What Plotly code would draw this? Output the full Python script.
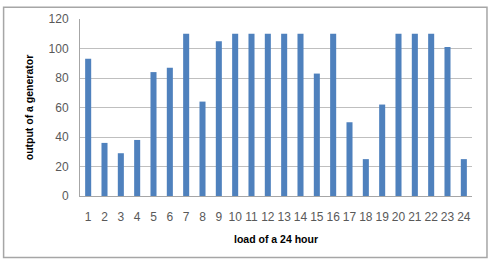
import plotly.graph_objects as go

hours = [str(i) for i in range(1, 25)]
output = [93, 36, 29, 38, 84, 87, 110, 64, 105, 110, 110, 110, 110, 110, 83, 110, 50, 25, 62, 110, 110, 110, 101, 25]
y_ticks = [0, 20, 40, 60, 80, 100, 120]

L, R, T, B = 79.5, 24, 16, 70
W, H = 496, 266
pw, ph = W - L - R, H - T - B

fig = go.Figure(go.Bar(x=hours, y=output, marker=dict(color="#4F81BD", line=dict(width=0))))

fig.update_layout(
    width=W, height=H,
    margin=dict(l=L, r=R, t=T, b=B),
    paper_bgcolor="white", plot_bgcolor="white",
    bargap=0.63,
    showlegend=False,
    font=dict(family="Liberation Sans", color="#595959", size=12),
)
fig.update_xaxes(
    type="category", showgrid=False, showline=True, linecolor="#A6A6A6", linewidth=1,
    ticks="outside", ticklen=10, tickcolor="rgba(0,0,0,0)",
    tickfont=dict(size=12, color="#595959"),
    title=dict(text="load of a 24 hour", font=dict(size=10.5, color="#000000", family="Liberation Sans", weight="bold"), standoff=12),
)
fig.update_yaxes(
    range=[0, 120], tickvals=y_ticks, showgrid=True, gridcolor="#BFBFBF", gridwidth=1,
    showline=True, linecolor="#A6A6A6", linewidth=1, zeroline=False,
    ticks="outside", ticklen=8, tickcolor="rgba(0,0,0,0)",
    tickfont=dict(size=12, color="#595959"),
    title=dict(text="output of a generator", font=dict(size=10.5, color="#000000", family="Liberation Sans", weight="bold"), standoff=12),
)

fig.add_shape(type="rect", xref="paper", yref="paper",
              x0=(3 - L) / pw, x1=(487 - L) / pw,
              y0=(T + ph - 258.5) / ph, y1=(T + ph - 4) / ph,
              line=dict(color="#A6A6A6", width=1.5), fillcolor="rgba(0,0,0,0)", layer="below")

fig.write_html("out.html")
